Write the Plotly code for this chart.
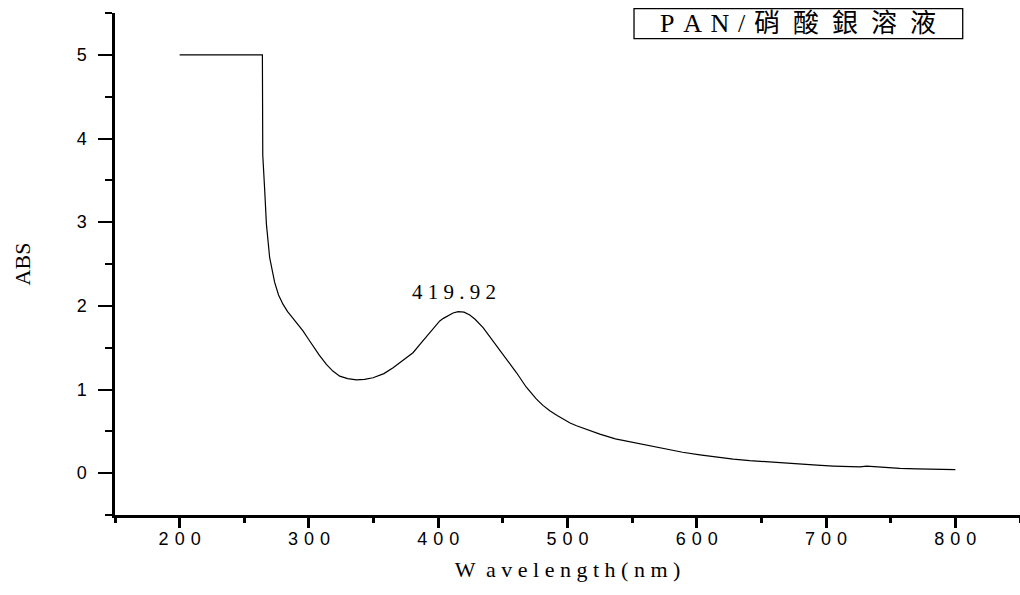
import plotly.graph_objects as go

# Spectrum (wavelength nm, absorbance)
wavelength = [200, 264.0, 264.3, 264.8, 265.8, 267.1, 269.6, 273.5, 276.5, 279.9,
              283.5, 287.7, 291.5, 295.4, 299.3, 303.2, 308, 313.5, 318.5, 323.8,
              330, 336.7, 343, 349.6, 358, 365.1, 372, 380.5, 387, 393.5,
              399, 401.2, 404, 408, 411.5, 415.4, 418, 420, 424.4, 428.5,
              434.7, 441, 447.6, 454, 460.6, 468, 476, 481, 486.3, 492,
              497, 502, 507, 515, 525, 537, 550.8, 563, 576.6, 589,
              602.4, 615, 628.2, 641, 654, 667, 679.8, 693, 705.6, 716,
              726.2, 731.4, 744.3, 757, 770.1, 785, 800]
absorbance = [5.0, 5.0, 3.8, 3.6, 3.38, 2.98, 2.58, 2.28, 2.13, 2.02,
              1.93, 1.85, 1.78, 1.70, 1.61, 1.52, 1.41, 1.30, 1.22, 1.16,
              1.13, 1.115, 1.12, 1.14, 1.19, 1.26, 1.34, 1.44, 1.56, 1.68,
              1.79, 1.82, 1.85, 1.89, 1.915, 1.93, 1.932, 1.925, 1.89, 1.84,
              1.74, 1.61, 1.48, 1.34, 1.20, 1.03, 0.885, 0.81, 0.745, 0.69,
              0.64, 0.60, 0.566, 0.52, 0.467, 0.41, 0.366, 0.325, 0.287, 0.25,
              0.219, 0.19, 0.168, 0.15, 0.135, 0.12, 0.108, 0.095, 0.085, 0.078,
              0.075, 0.084, 0.067, 0.058, 0.051, 0.047, 0.043]

x_tick_vals = [200, 300, 400, 500, 600, 700, 800]
x_tick_text = ["\u2004".join(str(v)) for v in x_tick_vals]
y_tick_vals = [0, 1, 2, 3, 4, 5]

peak_x = 412
peak_y = 2.16
peak_label = "419.92"
legend_text = "P\u2004A\u2004N\u2004/\u2004硝\u2002酸\u2002銀\u2002溶\u2002液"

fig = go.Figure()
fig.add_trace(go.Scatter(x=wavelength, y=absorbance, mode="lines",
                         line=dict(color="black", width=1.2), showlegend=False))

fig.add_annotation(x=peak_x, y=peak_y, xref="x", yref="y", text=" ".join(peak_label),
                   showarrow=False, font=dict(family="Liberation Serif", size=21, color="black"))

# legend-like label box
fig.add_shape(type="rect", xref="paper", yref="paper", x0=0.5735, x1=0.9367, y0=0.9488, y1=1.0086,
              line=dict(color="black", width=1.3), fillcolor="rgba(0,0,0,0)")
fig.add_annotation(x=0.755, y=0.9787, xref="paper", yref="paper", text=legend_text,
                   showarrow=False, yanchor="middle", xanchor="center",
                   font=dict(family="Liberation Serif, Noto Sans CJK TC", size=26, color="black"))

fig.update_layout(
    width=1020, height=595,
    margin=dict(l=115, r=0, t=13, b=80),
    paper_bgcolor="white", plot_bgcolor="white",
    xaxis=dict(range=[150, 850], tickvals=x_tick_vals, ticktext=x_tick_text,
               ticks="outside", ticklen=10, tickwidth=3, tickcolor="black",
               showline=True, linecolor="black", linewidth=2.5, showgrid=False, zeroline=False,
               tickfont=dict(family="Liberation Sans", size=18, color="black"),
               ticklabelstandoff=-4,
               minor=dict(dtick=50, ticks="outside", ticklen=5, tickwidth=2.5, tickcolor="black", showgrid=False),
               title=dict(text="W  a v e l e n g t h ( n m )",
                          font=dict(family="Liberation Serif", size=22, color="black"), standoff=14)),
    yaxis=dict(range=[-0.5, 5.5], tickvals=y_tick_vals,
               ticks="outside", ticklen=14, tickwidth=2, tickcolor="black",
               showline=True, linecolor="black", linewidth=2.5, showgrid=False, zeroline=False,
               tickfont=dict(family="Liberation Sans", size=18, color="black"),
               ticklabelstandoff=8,
               minor=dict(dtick=0.5, ticks="outside", ticklen=7, tickwidth=2, tickcolor="black", showgrid=False),
               title=dict(text="ABS", font=dict(family="Liberation Serif", size=22, color="black"), standoff=40)),
)

fig.write_html("out.html")
